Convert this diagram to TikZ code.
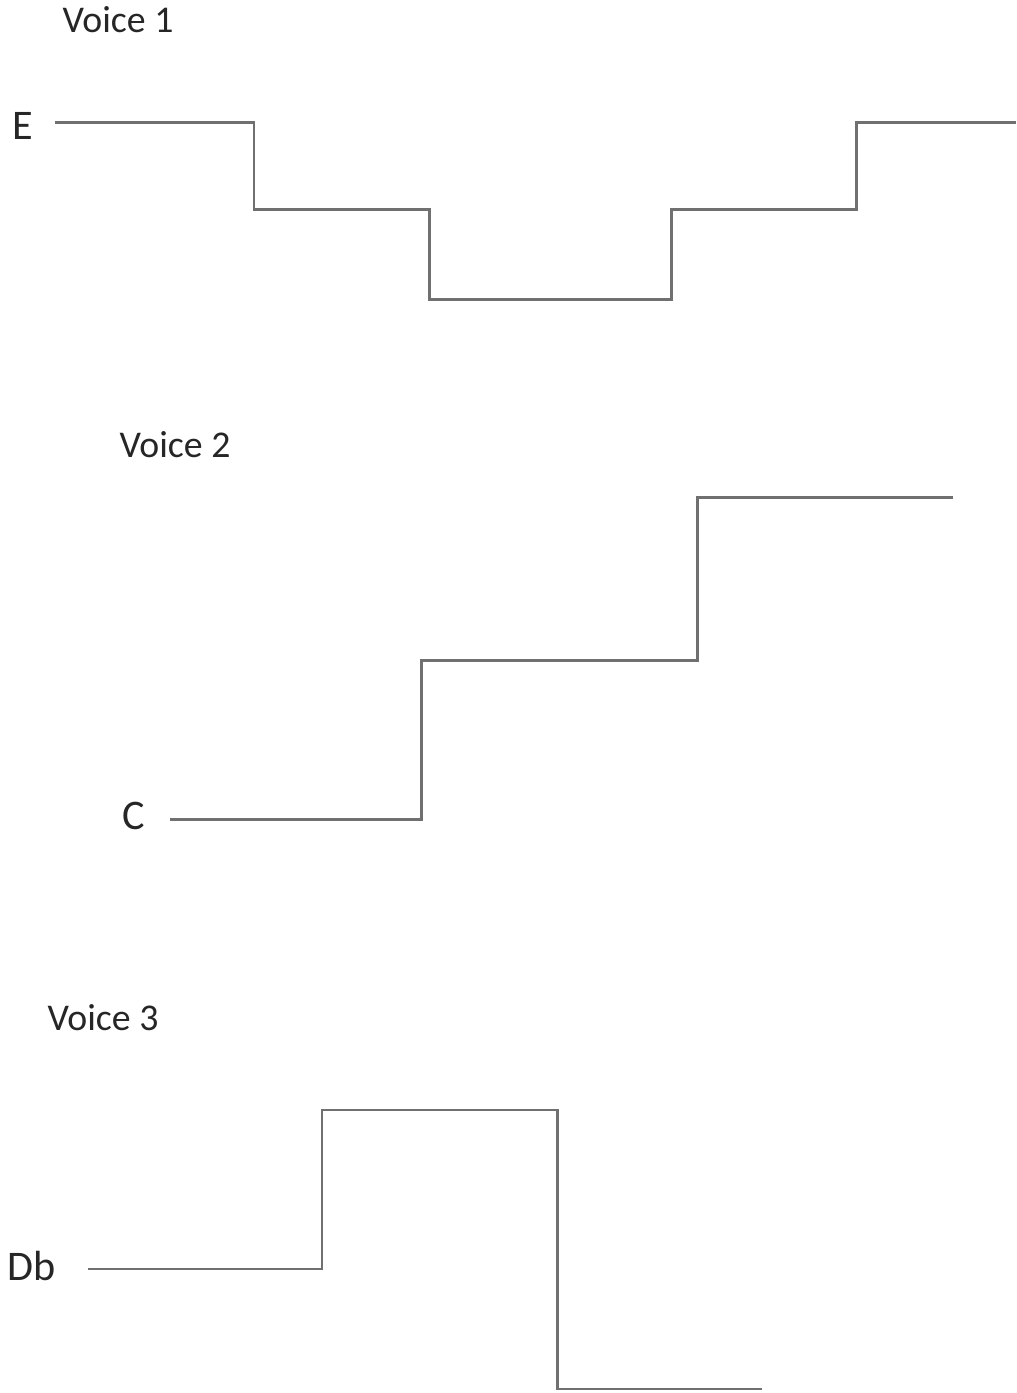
\documentclass[tikz,border=0pt]{standalone}
\usepackage{fontspec}
\setmainfont{Carlito}
\usepackage{xcolor}
\usepackage{tikz}
\usetikzlibrary{positioning}

\definecolor{stepgray}{HTML}{707070}
\definecolor{labelink}{HTML}{262626}

\begin{document}
\begin{tikzpicture}[x=1cm,y=1cm,
    every node/.style={font=\fontsize{21.5pt}{26pt}\selectfont,text=labelink,inner sep=0pt},
    pitch/.style={font=\fontsize{24pt}{28pt}\selectfont},
    voice/.style={draw=stepgray,line width=1.7pt,line join=miter}]
  \useasboundingbox (0,0) rectangle (20.32,27.86);
  % voice 1
  \node (v1) at (2.36,27.46) {Voice 1};
  \node[pitch] (pE) at (0.46,25.35) {E};
  \coordinate (s1) at (1.10,25.40);
  \draw[voice] (s1) -- (5.08,25.40) -- (5.08,23.66) -- (8.58,23.66) -- (8.58,21.86)
    -- (13.42,21.86) -- (13.42,23.66) -- (17.12,23.66) -- (17.12,25.40) -- (20.32,25.40);
  % voice 2
  \node (v2) at (3.50,18.96) {Voice 2};
  \node[pitch] (pC) at (2.68,11.55) {C};
  \coordinate (s2) at (3.40,11.46);
  \draw[voice] (s2) -- (8.42,11.46) -- (8.42,14.64) -- (13.94,14.64) -- (13.94,17.90)
    -- (19.06,17.90);
  % voice 3
  \node (v3) at (2.06,7.50) {Voice 3};
  \node[pitch] (pDb) at (0.63,2.54) {Db};
  \coordinate (s3) at (1.76,2.48);
  \draw[voice] (s3) -- (6.44,2.48) -- (6.44,5.66) -- (11.14,5.66) -- (11.14,0.08)
    -- (15.24,0.08);
\end{tikzpicture}
\end{document}
